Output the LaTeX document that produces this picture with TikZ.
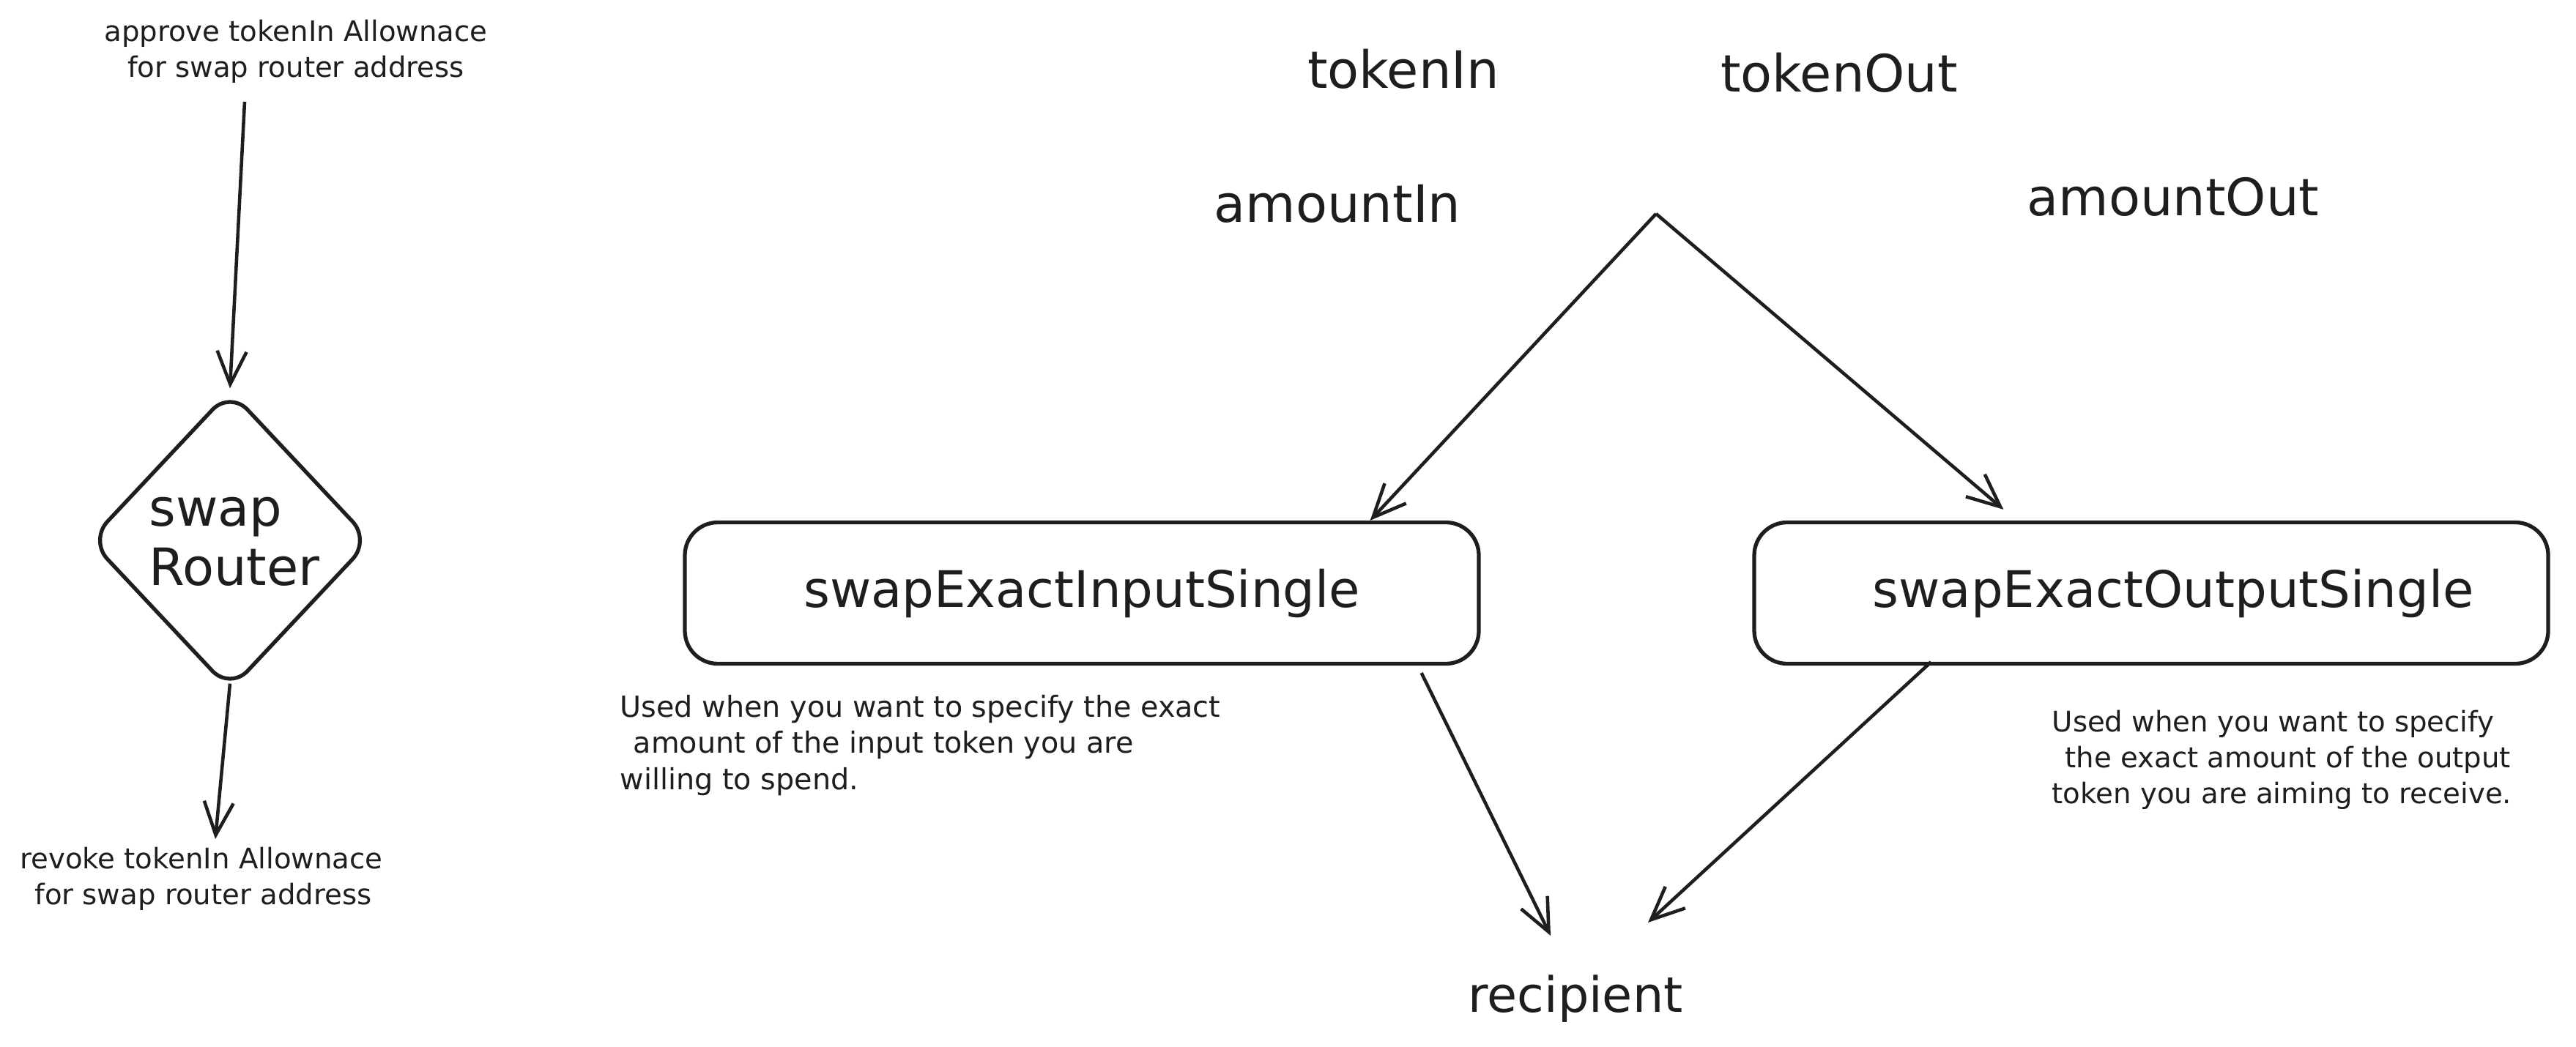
\documentclass[tikz,border=0pt]{standalone}
\usepackage{fontspec}
\setmainfont{DejaVu Sans}
\usetikzlibrary{arrows.meta, positioning, shapes}
\definecolor{ink}{HTML}{1E1E1E}

\begin{document}
\begin{tikzpicture}[
    >={Straight Barb[length=4.5mm, width=4mm]},
    every node/.style={text=ink},
    fnbox/.style={rectangle, draw=ink, line width=1.5pt, rounded corners=0.45cm, minimum width=10.84cm, minimum height=1.93cm, text centered, font=\fontsize{19.6}{23}\selectfont},
    router/.style={diamond, draw=ink, line width=1.5pt, rounded corners=0.35cm, minimum width=3.85cm, minimum height=4.1cm, inner sep=0pt},
    param/.style={inner sep=0pt, font=\fontsize{20}{23}\selectfont},
    note/.style={align=left, inner sep=0pt, font=\fontsize{11}{14}\selectfont},
    flow/.style={->, draw=ink, line width=1.3pt}
]
\useasboundingbox (0,0) rectangle (35.17,-14.30);

% Allowance around the router
\node[note, align=center] (approve) at (4.04,-0.70) {approve tokenIn Allownace\\for swap router address};
\node[router] (swaprouter) at (3.14,-7.38) {};
\node[param, align=left] (routerlbl) at (3.20,-7.40) {swap\\Router};
\node[note] (revoke) at (2.75,-12.00) {revoke tokenIn Allownace\\\hspace{0.2cm}for swap router address};

% Parameters
\node[param] (tokenin) at (19.16,-0.94) {tokenIn};
\node[param] (tokenout) at (25.11,-0.99) {tokenOut};
\node[param] (amountin) at (18.26,-2.78) {amountIn};
\node[param] (amountout) at (29.67,-2.69) {amountOut};
\coordinate (fork) at (22.61,-2.92);

% Swap functions
\node[fnbox] (exactin) at (14.77,-8.10) {swapExactInputSingle};
\node[fnbox] (exactout) at (29.37,-8.10) {\hspace*{0.6cm}swapExactOutputSingle};
\node[note, anchor=west, font=\fontsize{11.3}{14}\selectfont] (innote) at (8.46,-10.18) {Used when you want to specify the exact\\\hspace{0.18cm}amount of the input token you are\\willing to spend.};
\node[note, anchor=west] (outnote) at (28.01,-10.38) {Used when you want to specify\\\hspace{0.18cm}the exact amount of the output\\token you are aiming to receive.};
\node[param, font=\fontsize{19}{23}\selectfont] (recipient) at (21.51,-13.64) {recipient};

% Connectors
\draw[flow] ([xshift=-0.7cm, yshift=-0.25cm]approve.south) -- (swaprouter.north);
\draw[flow] ([yshift=0.12cm]swaprouter.south) -- ([xshift=0.19cm, yshift=0.1cm]revoke.north);
\draw[flow] (fork) -- ([xshift=-1.51cm]exactin.north east);
\draw[flow] (fork) -- ([xshift=3.43cm, yshift=0.15cm]exactout.north west);
\draw[flow] ([xshift=-0.81cm, yshift=-0.1cm]exactin.south east) -- ([shift={(-0.34,0.53)}]recipient.north);
\draw[flow] ([xshift=2.44cm, yshift=0.05cm]exactout.south west) -- ([shift={(0.99,0.71)}]recipient.north);
\end{tikzpicture}
\end{document}
